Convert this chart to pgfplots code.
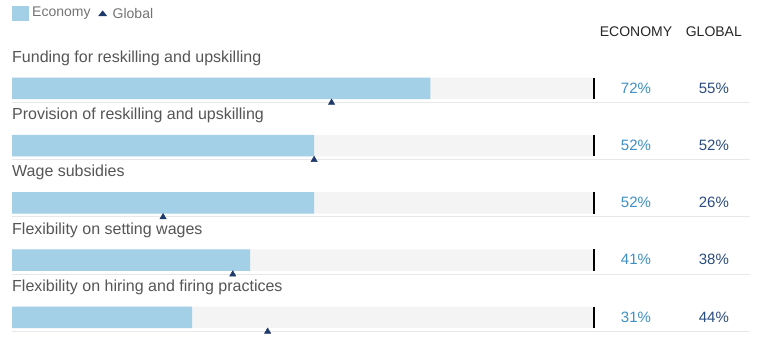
\documentclass[border=0pt]{standalone}
\usepackage{fontspec}
\setmainfont{Liberation Sans}
\usepackage{pgfplots}
\pgfplotsset{compat=1.18}

\definecolor{econ}{HTML}{A3CFE7}
\definecolor{track}{HTML}{F4F4F4}
\definecolor{glob}{HTML}{1E3A6B}
\definecolor{econtxt}{HTML}{3D8FC6}
\definecolor{globtxt}{HTML}{2B4C7E}
\definecolor{labtxt}{HTML}{555555}
\definecolor{sep}{HTML}{E8E8E8}

% 1 px of the reference = 1pt here; x: 100 units = 581pt, starting at 12pt
\begin{document}
\begin{tikzpicture}
\begin{axis}[
    scale only axis, width=758pt, height=338pt,
    hide axis, clip=false,
    xmin=-2.0654, xmax=128.399,
    ymin=0, ymax=338, y dir=reverse,
  ]
  % keep the full canvas as bounding box
  \path (rel axis cs:0,0) rectangle (rel axis cs:1,1);
  % separators
  \foreach \yy in {102.25,159.5,216.75,274,331.25} {
    \edef\tmp{\noexpand\draw[sep, line width=1pt] (axis cs:0,\yy) -- (axis cs:127.02,\yy);}
    \tmp
  }
  % track
  \addplot[xbar, bar width=21.5, bar shift=0pt, fill=track, draw=none]
    coordinates {(100,88.25) (100,145.5) (100,202.75) (100,260) (100,317.25)};
  % economy
  \addplot[xbar, bar width=21.5, bar shift=0pt, fill=econ, draw=none]
    coordinates {(72,88.25) (52,145.5) (52,202.75) (41,260) (31,317.25)};
  % end markers
  \foreach \yy in {88.25,145.5,202.75,260,317.25} {
    \edef\tmp{\noexpand\draw[black, line width=2pt] (axis cs:100.1,\yy-10.75) -- (axis cs:100.1,\yy+10.75);}
    \tmp
  }
  % global
  \addplot[only marks, mark=triangle*, mark size=3.6pt, color=glob]
    coordinates {(55,102.5) (52,159.75) (26,217) (38,274.25) (44,331.5)};
  % value columns
  \addplot[only marks, mark=none, point meta=explicit symbolic,
    nodes near coords={\pgfplotspointmeta\%},
    every node near coord/.style={anchor=center, text=econtxt, font=\fontsize{15}{18}\selectfont}]
    coordinates {(107.4,88)[72] (107.4,145.25)[52] (107.4,202.5)[52] (107.4,259.75)[41] (107.4,317)[31]};
  \addplot[only marks, mark=none, point meta=explicit symbolic,
    nodes near coords={\pgfplotspointmeta\%},
    every node near coord/.style={anchor=center, text=globtxt, font=\fontsize{15}{18}\selectfont}]
    coordinates {(120.8,88)[55] (120.8,145.25)[52] (120.8,202.5)[26] (120.8,259.75)[38] (120.8,317)[44]};
  % category labels
  \begin{scope}[every node/.style={anchor=west, inner sep=0pt, text=labtxt, font=\fontsize{16}{19}\selectfont}]
    \node at (axis cs:0,58.25) {Funding for reskilling and upskilling};
    \node at (axis cs:0,115.5) {Provision of reskilling and upskilling};
    \node at (axis cs:0,172.75) {Wage subsidies};
    \node at (axis cs:0,230) {Flexibility on setting wages};
    \node at (axis cs:0,287.25) {Flexibility on hiring and firing practices};
  \end{scope}
  % column headers
  \node[text=black!85, font=\fontsize{14}{16}\selectfont] at (axis cs:107.4,32) {ECONOMY};
  \node[text=black!85, font=\fontsize{14}{16}\selectfont] at (axis cs:120.8,32) {GLOBAL};
  % legend
  \fill[econ] (axis cs:0,5.5) rectangle (axis cs:2.93,21);
  \node[anchor=west, inner sep=0pt, text=black!55, font=\fontsize{14}{16}\selectfont] at (axis cs:3.45,13.5) {Economy};
  \fill[glob] (axis cs:15.6,10.4) -- (axis cs:16.4,16.2) -- (axis cs:14.8,16.2) -- cycle;
  \node[anchor=west, inner sep=0pt, text=black!55, font=\fontsize{14}{16}\selectfont] at (axis cs:17.3,13.5) {Global};
\end{axis}
\end{tikzpicture}
\end{document}
